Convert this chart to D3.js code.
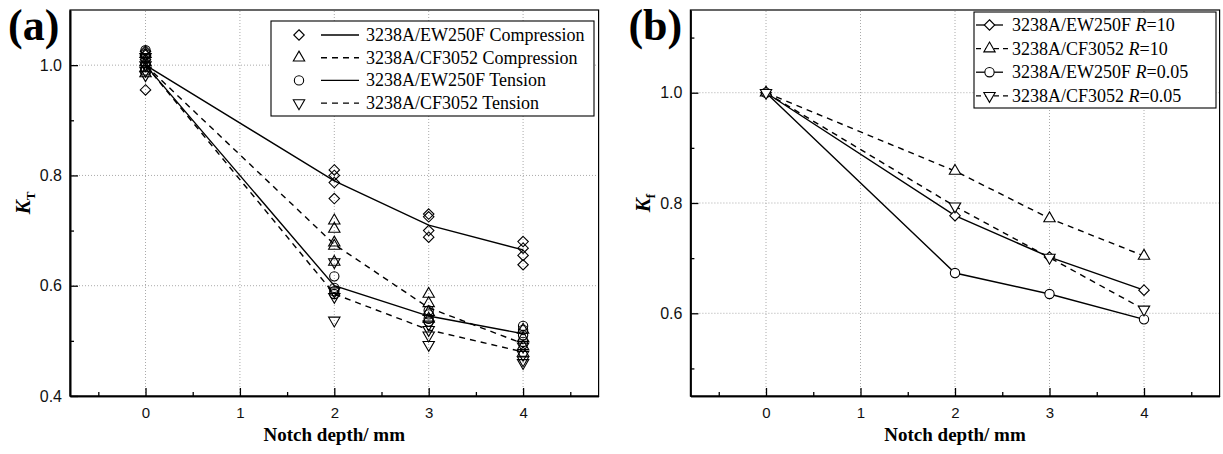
<!DOCTYPE html>
<html>
<head>
<meta charset="utf-8">
<script src="https://cdn.jsdelivr.net/npm/d3@7"></script>
<style>
  body { margin: 0; background: #fff; }
  svg { display: block; }
</style>
</head>
<body>
<script>
// notch depths (mm) where the specimens were tested
let depths = [0, 2, 3, 4];
let xTickVals = [0, 1, 2, 3, 4];

// panel (a): individual K_T results, one list per depth
let ewCompPts = [[1.025, 1.018, 1.01, 1.0, 0.955], [0.81, 0.80, 0.787, 0.758], [0.73, 0.725, 0.70, 0.688], [0.68, 0.668, 0.655, 0.638]];
let cfCompPts = [[1.02, 1.005, 0.995, 0.985], [0.718, 0.703, 0.678, 0.672, 0.643], [0.585, 0.568, 0.552, 0.54], [0.52, 0.505, 0.49, 0.478]];
let ewTensPts = [[1.027, 1.02, 1.012, 0.99], [0.617, 0.596, 0.59, 0.585], [0.555, 0.548, 0.54, 0.535], [0.527, 0.52, 0.51, 0.498]];
let cfTensPts = [[1.015, 1.0, 0.99, 0.982], [0.643, 0.59, 0.58, 0.537], [0.53, 0.52, 0.51, 0.493], [0.49, 0.475, 0.465, 0.46]];

// panel (a): mean curves
let ewCompMean = [1.0, 0.79, 0.71, 0.665];
let cfCompMean = [1.0, 0.675, 0.56, 0.495];
let ewTensMean = [1.0, 0.60, 0.545, 0.513];
let cfTensMean = [1.0, 0.585, 0.52, 0.48];

// panel (b): K_f
let ewR10 = [1.0, 0.777, 0.702, 0.642];
let cfR10 = [1.0, 0.858, 0.772, 0.704];
let ewR005 = [1.0, 0.673, 0.635, 0.589];
let cfR005 = [1.0, 0.794, 0.701, 0.607];

let yTicksA = [0.4, 0.6, 0.8, 1.0];
let yTicksB = [0.6, 0.8, 1.0];

let legendA = ["3238A/EW250F Compression", "3238A/CF3052 Compression", "3238A/EW250F Tension", "3238A/CF3052 Tension"];
let legendB = [["3238A/EW250F ", "R", "=10"], ["3238A/CF3052 ", "R", "=10"], ["3238A/EW250F ", "R", "=0.05"], ["3238A/CF3052 ", "R", "=0.05"]];

let serif = "'Liberation Serif', 'Times New Roman', serif";
let sans = "'Liberation Sans', Arial, sans-serif";

let svg = d3.select("body").append("svg").attr("width", 1223).attr("height", 454);

// marker shapes
let shapes = {
    diamond: d3.symbol().type(d3.symbolDiamond2).size(70)(),
    up: d3.symbol().type(d3.symbolTriangle).size(56)(),
    circle: d3.symbol().type(d3.symbolCircle).size(68)(),
    down: d3.symbol().type(d3.symbolTriangle).size(56)()
};
function marker(g, kind, x, y, fill) {
    g.append("path")
        .attr("d", shapes[kind])
        .attr("transform", "translate(" + x + "," + y + ")" + (kind == "down" ? " rotate(180)" : ""))
        .attr("fill", fill)
        .attr("stroke", "#000")
        .attr("stroke-width", 1.1);
}

// axes, grid, frame for one panel
function panel(x, y, yTicks, minorY, letter, sub) {
    let g = svg.append("g");
    let [x0, x1] = x.range();
    let [y0, y1] = y.range();

    // dotted grid
    g.selectAll(".gx").data(xTickVals).enter().append("line")
        .attr("x1", d => x(d)).attr("x2", d => x(d)).attr("y1", y0).attr("y2", y1)
        .attr("stroke", "#aaa").attr("stroke-dasharray", "1,2");
    g.selectAll(".gy").data(yTicks.filter(d => d > y.domain()[0])).enter().append("line")
        .attr("x1", x0).attr("x2", x1).attr("y1", d => y(d)).attr("y2", d => y(d))
        .attr("stroke", "#aaa").attr("stroke-dasharray", "1,2");

    // frame
    g.append("rect").attr("x", x0).attr("y", y1).attr("width", x1 - x0).attr("height", y0 - y1)
        .attr("fill", "none").attr("stroke", "#000").attr("stroke-width", 1.2);

    // x axis
    let xa = g.append("g").attr("transform", "translate(0," + y0 + ")")
        .call(d3.axisBottom(x).tickValues(xTickVals).tickFormat(d3.format("d")).tickSizeInner(-8).tickSizeOuter(0).tickPadding(11));
    g.append("g").attr("transform", "translate(0," + y0 + ")")
        .call(d3.axisBottom(x).tickValues(d3.range(-0.5, 4.6, 1)).tickFormat("").tickSizeInner(-4).tickSizeOuter(0));

    // y axis
    let ya = g.append("g").attr("transform", "translate(" + x0 + ",0)")
        .call(d3.axisLeft(y).tickValues(yTicks).tickFormat(d3.format(".1f")).tickSizeInner(-8).tickSizeOuter(0).tickPadding(8));
    g.append("g").attr("transform", "translate(" + x0 + ",0)")
        .call(d3.axisLeft(y).tickValues(minorY).tickFormat("").tickSizeInner(-4).tickSizeOuter(0));

    g.selectAll(".domain").attr("stroke-width", 1.6);
    g.selectAll(".tick line").attr("stroke-width", 1.3);
    xa.selectAll("text").attr("font-family", sans).attr("font-size", 15).attr("fill", "#111");
    ya.selectAll("text").attr("font-family", sans).attr("font-size", 16).attr("fill", "#111");

    // axis titles
    g.append("text").attr("x", x(2)).attr("y", 441).attr("text-anchor", "middle")
        .attr("font-family", serif).attr("font-weight", "bold").attr("font-size", 19)
        .text("Notch depth/ mm");
    let yl = g.append("text").attr("transform", "translate(" + (x0 - 40) + "," + ((y0 + y1) / 2) + ") rotate(-90)")
        .attr("text-anchor", "middle").attr("font-family", serif).attr("font-weight", "bold");
    yl.append("tspan").attr("font-style", "italic").attr("font-size", 21).text("K");
    yl.append("tspan").attr("font-size", 13).attr("dy", 5).text(sub);

    // panel letter
    g.append("text").attr("x", x0 - 62).attr("y", 40)
        .attr("font-family", serif).attr("font-weight", "bold").attr("font-size", 44)
        .text(letter);
    return g;
}

// ---------- panel (a) ----------
let xA = d3.scaleLinear().domain([-0.8, 4.8]).range([70, 598.6]);
let yA = d3.scaleLinear().domain([0.4, 1.1]).range([396, 10]);
let gA = panel(xA, yA, yTicksA, [0.5, 0.7, 0.9], "(a)", "T");

let seriesA = [
    { pts: ewCompPts, mean: ewCompMean, kind: "diamond", dash: null },
    { pts: cfCompPts, mean: cfCompMean, kind: "up", dash: "6,5" },
    { pts: ewTensPts, mean: ewTensMean, kind: "circle", dash: null },
    { pts: cfTensPts, mean: cfTensMean, kind: "down", dash: "6,5" }
];
let lineA = d3.line().x((d, i) => xA(depths[i])).y(d => yA(d));

seriesA.forEach(s => {
    gA.append("path").attr("d", lineA(s.mean)).attr("fill", "none")
        .attr("stroke", "#000").attr("stroke-width", 1.4).attr("stroke-dasharray", s.dash);
});
seriesA.forEach(s => {
    s.pts.forEach((vals, i) => {
        vals.forEach(v => marker(gA, s.kind, xA(depths[i]), yA(v), "none"));
    });
});

// legend (a)
gA.append("rect").attr("x", 271).attr("y", 21).attr("width", 323).attr("height", 95)
    .attr("fill", "#fff").attr("stroke", "#000").attr("stroke-width", 1.1);
seriesA.forEach((s, i) => {
    let ly = 35 + i * 22.7;
    marker(gA, s.kind, 299, ly, "none");
    gA.append("line").attr("x1", 321).attr("x2", 359).attr("y1", ly).attr("y2", ly)
        .attr("stroke", "#000").attr("stroke-width", 1.4).attr("stroke-dasharray", s.dash);
    gA.append("text").attr("x", 366).attr("y", ly + 6)
        .attr("font-family", serif).attr("font-size", 18).text(legendA[i]);
});

// ---------- panel (b) ----------
let xB = d3.scaleLinear().domain([-0.8, 4.8]).range([690.4, 1219.6]);
let yB = d3.scaleLinear().domain([0.45, 1.15]).range([396, 10]);
let gB = panel(xB, yB, yTicksB, [0.5, 0.7, 0.9, 1.1], "(b)", "f");

let seriesB = [
    { vals: ewR10, kind: "diamond", dash: null },
    { vals: cfR10, kind: "up", dash: "6,5" },
    { vals: ewR005, kind: "circle", dash: null },
    { vals: cfR005, kind: "down", dash: "6,5" }
];
let lineB = d3.line().x((d, i) => xB(depths[i])).y(d => yB(d));

seriesB.forEach(s => {
    gB.append("path").attr("d", lineB(s.vals)).attr("fill", "none")
        .attr("stroke", "#000").attr("stroke-width", 1.4).attr("stroke-dasharray", s.dash);
});
seriesB.forEach(s => {
    s.vals.forEach((v, i) => marker(gB, s.kind, xB(depths[i]), yB(v), "#fff"));
});

// legend (b)
gB.append("rect").attr("x", 974).attr("y", 12).attr("width", 242).attr("height", 96)
    .attr("fill", "#fff").attr("stroke", "#000").attr("stroke-width", 1.1);
seriesB.forEach((s, i) => {
    let ly = 25 + i * 23.6;
    gB.append("line").attr("x1", 976).attr("x2", s.dash ? 1008 : 1003).attr("y1", ly).attr("y2", ly)
        .attr("stroke", "#000").attr("stroke-width", 1.3).attr("stroke-dasharray", s.dash ? "5,4" : null);
    marker(gB, s.kind, 989.5, ly, "#fff");
    let t = gB.append("text").attr("x", 1012).attr("y", ly + 6)
        .attr("font-family", serif).attr("font-size", 18);
    t.append("tspan").text(legendB[i][0]);
    t.append("tspan").attr("font-style", "italic").text(legendB[i][1]);
    t.append("tspan").text(legendB[i][2]);
});
</script>
</body>
</html>
